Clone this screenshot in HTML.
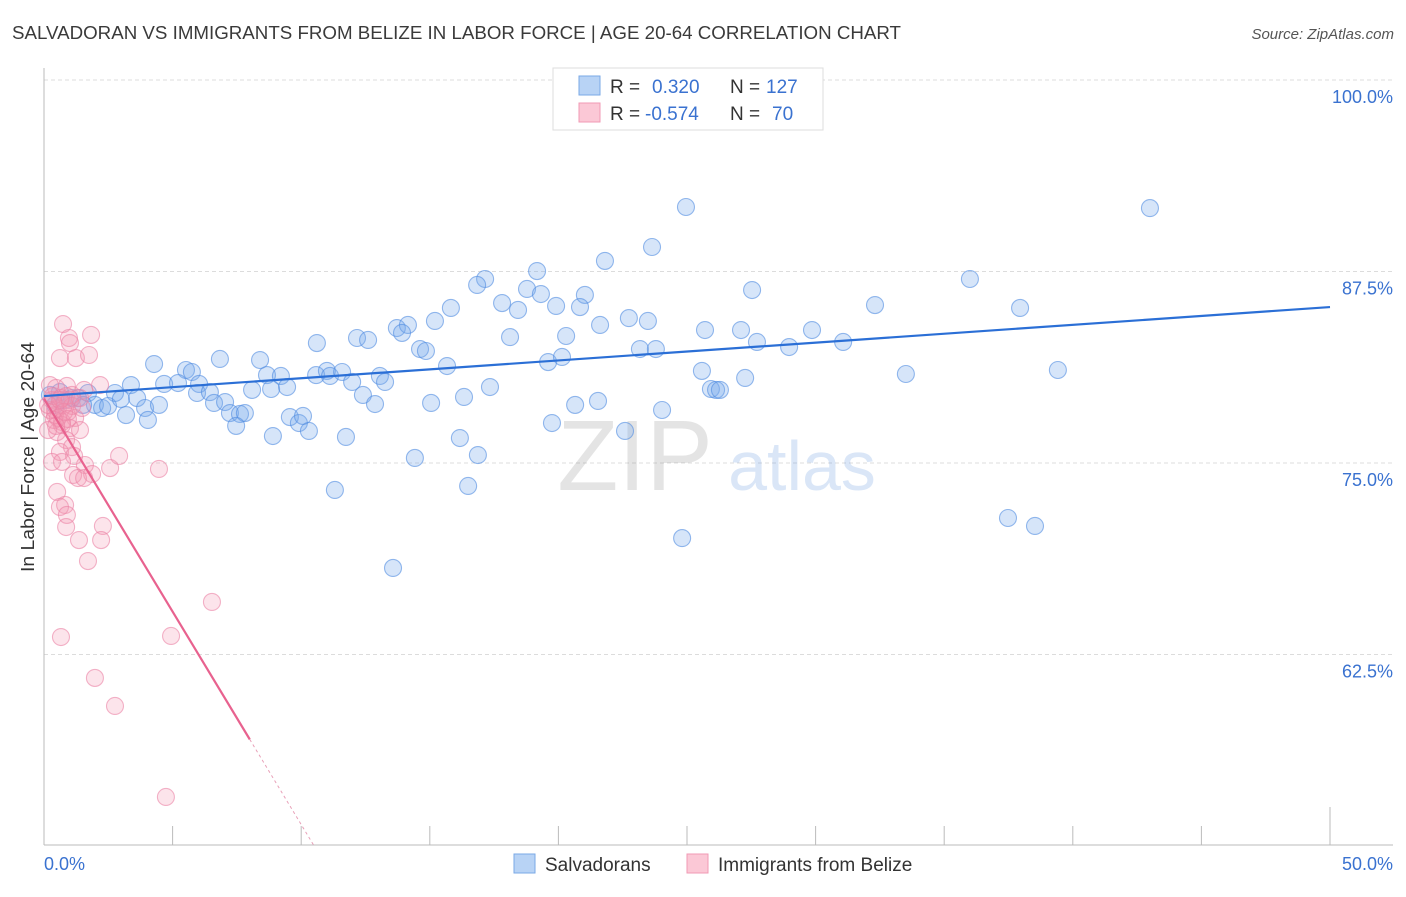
<!DOCTYPE html>
<html><head><meta charset="utf-8"><style>
body{margin:0;background:#fff;font-family:"Liberation Sans",sans-serif}
svg text{font-family:"Liberation Sans",sans-serif}
</style></head><body>
<svg id="chart" width="1406" height="892" xmlns="http://www.w3.org/2000/svg">
<text x="12" y="39" font-size="18" fill="#3a3a3a" textLength="889" lengthAdjust="spacingAndGlyphs">SALVADORAN VS IMMIGRANTS FROM BELIZE IN LABOR FORCE | AGE 20-64 CORRELATION CHART</text>
<text x="1394" y="39" font-size="15" fill="#555" text-anchor="end" font-style="italic">Source: ZipAtlas.com</text>
<text transform="translate(34,457) rotate(-90)" font-size="18" fill="#333" text-anchor="middle" textLength="230" lengthAdjust="spacingAndGlyphs">In Labor Force | Age 20-64</text>
<g id="grid"></g>
<g opacity="0.22">
<text x="635" y="490" font-size="100" font-family="Liberation Serif" fill="#888" text-anchor="middle">ZIP</text>
<text x="802" y="490" font-size="70" fill="#5a92dc" text-anchor="middle">atlas</text>
</g>
<g id="points"></g>
<g id="lines"></g>
<g>
<rect x="553" y="68" width="270" height="62" fill="#fff" stroke="#ddd"/>
<rect x="579" y="76" width="21" height="19" fill="#b8d3f5" stroke="#7aa8e6"/>
<rect x="579" y="103" width="21" height="19" fill="#fbc8d6" stroke="#f09ab4"/>
<text x="610" y="93" font-size="19" fill="#333">R =</text>
<text x="652" y="93" font-size="19" fill="#3a72d0">0.320</text>
<text x="730" y="93" font-size="19" fill="#333">N =</text>
<text x="766" y="93" font-size="19" fill="#3a72d0">127</text>
<text x="610" y="120" font-size="19" fill="#333">R =</text>
<text x="645" y="120" font-size="19" fill="#3a72d0">-0.574</text>
<text x="730" y="120" font-size="19" fill="#333">N =</text>
<text x="772" y="120" font-size="19" fill="#3a72d0">70</text>
</g>
<g>
<rect x="514" y="854" width="21" height="19" fill="#b8d3f5" stroke="#7aa8e6"/>
<text x="545" y="871" font-size="19" fill="#333">Salvadorans</text>
<rect x="687" y="854" width="21" height="19" fill="#fbc8d6" stroke="#f09ab4"/>
<text x="718" y="871" font-size="19" fill="#333">Immigrants from Belize</text>
</g>
</svg>
<script>
const yTicks=[100,87.5,75,62.5];
const yTickLabels=["100.0%","87.5%","75.0%","62.5%"];
const xEndLabels=["0.0%","50.0%"];
const blueX=[24.96,43.0,23.64,21.81,19.17,17.15,16.84,36.0,27.53,18.78,19.32,21.03,17.81,18.43,19.91,20.84,37.95,32.31,15.82,15.20,22.74,23.48,21.62,13.72,14.15,13.92,18.12,20.30,25.70,27.10,29.86,12.17,12.60,10.61,14.62,14.85,23.17,23.79,27.72,28.97,31.07,19.60,20.14,15.67,4.28,6.84,8.40,5.52,5.75,8.67,9.21,10.58,11.0,11.12,11.59,13.06,13.26,11.98,4.67,5.21,6.03,5.95,8.09,8.83,9.45,25.58,27.26,39.42,33.51,25.93,26.13,26.28,17.34,12.40,16.33,15.05,12.87,21.54,20.65,24.03,2.76,3.38,1.71,1.98,2.26,2.49,2.99,3.62,3.93,3.19,4.04,4.47,6.45,6.61,7.04,7.23,7.62,7.81,7.47,9.56,9.91,10.07,10.30,8.90,11.74,19.75,22.59,16.17,16.87,14.42,11.31,16.49,24.81,37.48,38.53,13.57,0.62,0.82,1.09,0.43,0.23,1.32,1.52];
const blueY=[91.71,91.64,89.10,88.19,87.53,87.01,86.62,87.01,86.29,86.36,86.03,85.97,85.44,84.99,85.25,85.18,85.12,85.31,85.12,84.27,84.46,84.27,84.01,83.81,84.01,83.49,83.22,83.29,83.68,83.68,83.68,83.16,83.03,82.83,82.44,82.31,82.44,82.44,82.90,82.57,82.90,81.59,81.92,81.33,81.46,81.79,81.72,81.07,80.94,80.74,80.68,80.74,81.01,80.68,80.94,80.68,80.29,80.29,80.16,80.22,80.16,79.57,79.77,79.83,79.96,81.01,80.55,81.07,80.81,79.83,79.77,79.77,79.96,79.44,79.31,78.92,78.85,79.05,78.79,78.46,79.57,80.09,79.57,78.79,78.59,78.72,79.18,79.24,78.59,78.13,77.81,78.79,79.63,78.92,78.98,78.26,78.20,78.26,77.42,78.00,77.61,78.07,77.09,76.76,76.70,77.61,77.09,76.63,75.52,75.33,73.24,73.50,70.10,71.41,70.89,68.15,79.63,79.11,79.24,78.79,79.44,79.24,78.79];
const pinkX=[0.74,0.97,1.83,1.01,0.62,1.24,1.75,0.47,0.89,1.09,1.56,2.18,0.23,0.31,0.54,0.78,0.93,0.43,1.21,0.70,1.01,1.40,0.51,0.86,1.09,0.62,1.17,1.59,0.31,0.70,1.87,2.57,2.92,4.47,1.13,1.32,1.56,0.51,0.82,0.62,0.89,0.86,2.29,1.36,2.22,1.71,6.53,0.66,4.94,1.98,2.76,4.74,0.43,0.23,0.54,0.35,0.86,0.66,1.01,0.16,1.09,0.39,0.70,0.16,1.40,1.48,0.78,0.93,0.47,0.62];
const pinkY=[84.07,83.16,83.36,82.83,81.85,81.85,82.05,79.90,80.03,79.44,79.77,80.09,80.09,79.11,78.59,78.79,78.33,78.13,77.94,77.68,77.28,77.15,77.02,76.50,76.04,75.72,75.46,74.87,75.07,75.07,74.28,74.67,75.46,74.61,74.22,74.02,74.02,73.11,72.26,72.13,71.61,70.82,70.89,69.97,69.97,68.60,65.93,63.64,63.71,60.97,59.14,53.20,78.46,78.46,77.94,79.37,79.37,79.24,79.11,78.79,78.72,77.81,77.48,77.15,79.24,78.59,78.33,77.87,77.42,79.11];
const blueFit=[79.37,85.18];
const pinkFit={intercept:79.2,slope:-2.78,solidEnd:8.0,dashEnd:10.5};

const NS="http://www.w3.org/2000/svg";
const X=v=>44+v*25.72;
const Y=v=>80+(100-v)/12.5*191.5;
function mk(t,a,p){const e=document.createElementNS(NS,t);for(const k in a)e.setAttribute(k,a[k]);p.appendChild(e);return e;}
const grid=document.getElementById('grid');
yTicks.forEach((t,i)=>{
  const l=mk('line',{x1:44,x2:1393,y1:Y(t),y2:Y(t),stroke:'#dcdcdc','stroke-dasharray':'4,3'},grid);
  
  
  const tx=mk('text',{x:1393,y:Y(t)+23,'font-size':18,fill:'#3a72d0','text-anchor':'end'},grid);
  tx.textContent=yTickLabels[i];
  
  
});
const ya=mk('line',{x1:44,x2:44,y1:68,y2:845,stroke:'#bbb'},grid);


const xa=mk('line',{x1:44,x2:1393,y1:845,y2:845,stroke:'#bbb'},grid);


for(let v=5;v<=50;v+=5){
  const t=mk('line',{x1:X(v),x2:X(v),y1:v===50?807:826,y2:845,stroke:'#bbb'},grid);
  
  
}
const xl0=mk('text',{x:44,y:870,'font-size':18,fill:'#3a72d0'},grid);xl0.textContent=xEndLabels[0];


const xl1=mk('text',{x:1393,y:870,'font-size':18,fill:'#3a72d0','text-anchor':'end'},grid);xl1.textContent=xEndLabels[1];



const pts=document.getElementById('points');
blueX.forEach((x,i)=>{
  const c=mk('circle',{cx:X(x),cy:Y(blueY[i]),r:8.5,fill:'rgba(120,168,235,0.3)',stroke:'rgba(80,140,225,0.6)','stroke-width':1.1},pts);
  
  
});
pinkX.forEach((x,i)=>{
  const c=mk('circle',{cx:X(x),cy:Y(pinkY[i]),r:8.5,fill:'rgba(245,150,178,0.26)',stroke:'rgba(235,130,165,0.6)','stroke-width':1.1},pts);
  
  
});
const ln=document.getElementById('lines');
const bl=mk('line',{x1:X(0),y1:Y(blueFit[0]),x2:X(50),y2:Y(blueFit[1]),stroke:'#2b6fd6','stroke-width':2.2},ln);


const pf=v=>pinkFit.intercept+pinkFit.slope*v;
const pl=mk('line',{x1:X(0),y1:Y(pf(0)),x2:X(pinkFit.solidEnd),y2:Y(pf(pinkFit.solidEnd)),stroke:'#e8628f','stroke-width':2.2},ln);


const pd=mk('line',{x1:X(pinkFit.solidEnd),y1:Y(pf(pinkFit.solidEnd)),x2:X(pinkFit.dashEnd),y2:Y(pf(pinkFit.dashEnd)),stroke:'#e8a0b8','stroke-width':1,'stroke-dasharray':'3,3'},ln);


</script>
</body></html>
